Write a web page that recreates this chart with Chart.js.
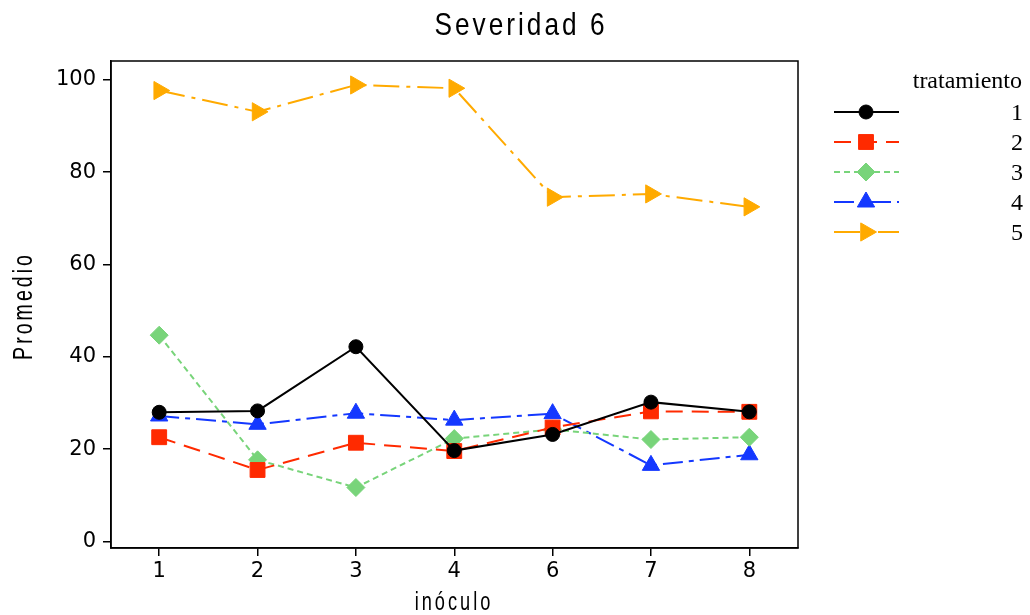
<!DOCTYPE html>
<html lang="es">
<head>
<meta charset="UTF-8">
<title>Severidad 6</title>
<script src="https://cdn.jsdelivr.net/npm/chart.js"></script>
<style>
  html, body { margin: 0; padding: 0; background: #fff; }
  #wrap { width: 1030px; height: 615px; }
</style>
</head>
<body>
<div id="wrap"><canvas id="chart" width="1030" height="615"></canvas></div>
<script>
// categorias del eje x (inóculo) y ticks del eje y
const inoculos = ['1', '2', '3', '4', '6', '7', '8'];
const yTicks = [0, 20, 40, 60, 80, 100];
const tratamientos = ['1', '2', '3', '4', '5'];

// promedio por tratamiento, un valor por inóculo
const trat1 = [28.0, 28.3, 42.2, 19.7, 23.2, 30.2, 28.1];
const trat2 = [22.6, 15.5, 21.4, 19.6, 24.7, 28.2, 28.1];
const trat3 = [44.7, 17.7, 11.7, 22.3, 24.3, 22.1, 22.6];
const trat4 = [27.2, 25.4, 27.8, 26.3, 27.7, 16.5, 18.8];
const trat5 = [97.7, 93.1, 98.9, 98.2, 74.6, 75.3, 72.5];

const serie = arr => arr.map((v, i) => ({ x: i, y: v }));

const tickFont = { family: 'DejaVu Sans', size: 21 };

function ds(label, data, color, dash, style, radius, rotation) {
    return {
        label: label,
        data: serie(data),
        borderColor: color,
        backgroundColor: color,
        borderWidth: 2,
        borderDash: dash,
        pointStyle: style,
        pointRadius: radius,
        pointHoverRadius: radius,
        pointRotation: rotation || 0,
        pointBorderWidth: 1,
        pointBorderColor: color,
        pointBackgroundColor: color,
        tension: 0,
        fill: false
    };
}

// texto condensado: Liberation Sans apretado en horizontal, con espaciado
function narrowText(ctx, text, x, y, size, spacing, sx, rot) {
    ctx.save();
    ctx.translate(x, y);
    if (rot) ctx.rotate(rot);
    ctx.scale(sx, 1);
    ctx.font = size + "px 'Liberation Sans', Arial, sans-serif";
    ctx.letterSpacing = (spacing / sx) + 'px';
    ctx.textAlign = 'center';
    ctx.textBaseline = 'alphabetic';
    ctx.fillText(text, 0, 0);
    ctx.restore();
}

// marco, titulos y leyenda dibujados a mano
const extras = {
    id: 'extras',
    afterDraw(chart) {
        const ctx = chart.ctx;
        const a = chart.chartArea;
        ctx.save();
        ctx.strokeStyle = '#000';
        ctx.lineWidth = 1.5;
        ctx.strokeRect(a.left, a.top, a.right - a.left, a.bottom - a.top);

        ctx.fillStyle = '#000';
        narrowText(ctx, 'Severidad 6', 521, 35, 32, 3, 0.82);
        narrowText(ctx, 'inóculo', 454, 610, 26, 3, 0.7);
        narrowText(ctx, 'Promedio', 32, 306, 28, 3, 0.7, -Math.PI / 2);

        // leyenda
        ctx.font = "24px 'Liberation Serif', 'Times New Roman', serif";
        ctx.textAlign = 'right';
        ctx.textBaseline = 'alphabetic';
        ctx.fillText('tratamiento', 1022, 88);
        chart.data.datasets.forEach((d, i) => {
            const y = 112 + i * 30;
            ctx.save();
            ctx.strokeStyle = d.borderColor;
            ctx.lineWidth = d.borderWidth;
            ctx.setLineDash(d.borderDash);
            ctx.beginPath();
            ctx.moveTo(834, y);
            ctx.lineTo(899, y);
            ctx.stroke();
            ctx.setLineDash([]);
            ctx.fillStyle = d.pointBackgroundColor;
            ctx.strokeStyle = d.pointBorderColor;
            ctx.lineWidth = 1;
            Chart.helpers.drawPoint(ctx, {
                pointStyle: d.pointStyle,
                rotation: d.pointRotation,
                radius: d.pointRadius,
                borderWidth: 1
            }, 866, y);
            ctx.restore();
            ctx.fillStyle = '#000';
            ctx.fillText(tratamientos[i], 1023, y + 8);
        });
        ctx.restore();
    }
};

new Chart(document.getElementById('chart'), {
    type: 'line',
    data: {
        datasets: [
            ds(tratamientos[0], trat1, '#000000', [], 'circle', 7),
            ds(tratamientos[1], trat2, '#ff2a00', [17, 9], 'rect', 10.5),
            ds(tratamientos[2], trat3, '#78d47a', [6, 4], 'rectRot', 9),
            ds(tratamientos[3], trat4, '#1438ff', [20, 6, 5, 6], 'triangle', 10),
            ds(tratamientos[4], trat5, '#ffaa00', [26, 7, 4, 7], 'triangle', 10.5, 90)
        ]
    },
    options: {
        responsive: false,
        animation: false,
        devicePixelRatio: 1,
        layout: { padding: { left: 0, top: 61, right: 232, bottom: 0 } },
        plugins: {
            legend: { display: false },
            title: { display: false },
            tooltip: { enabled: false }
        },
        scales: {
            x: {
                type: 'linear',
                min: -0.49,
                max: 6.495,
                afterBuildTicks: s => { s.ticks = inoculos.map((c, i) => ({ value: i })); },
                afterFit: s => { s.height = 67; },
                ticks: {
                    font: tickFont,
                    color: '#000',
                    padding: 3,
                    maxRotation: 0,
                    callback: v => inoculos[v]
                },
                grid: { drawOnChartArea: false, drawTicks: true, tickLength: 8, color: '#000', lineWidth: 1.5 },
                border: { color: '#000', width: 1.5 }
            },
            y: {
                type: 'linear',
                min: -1.4,
                max: 104.1,
                afterBuildTicks: s => { s.ticks = yTicks.map(v => ({ value: v })); },
                afterFit: s => { s.width = 111; },
                ticks: { font: tickFont, color: '#000', padding: 7 },
                grid: { drawOnChartArea: false, drawTicks: true, tickLength: 8, color: '#000', lineWidth: 1.5 },
                border: { color: '#000', width: 1.5 }
            }
        }
    },
    plugins: [extras]
});
</script>
</body>
</html>
